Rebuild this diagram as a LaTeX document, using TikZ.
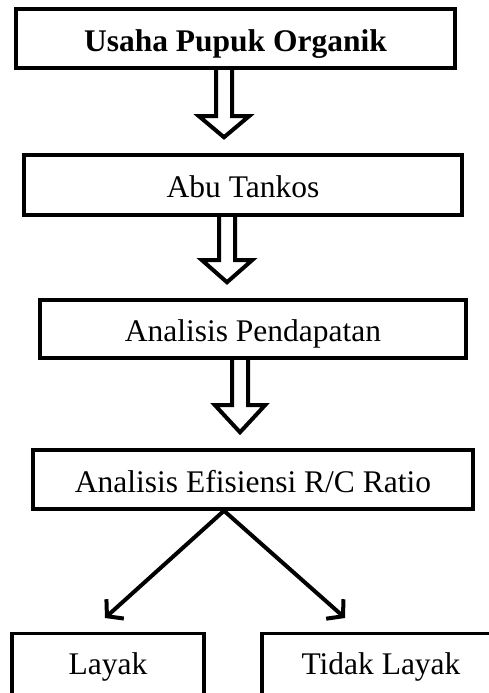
\documentclass[tikz,border=0pt]{standalone}
\usepackage{fontspec}
\setmainfont{Liberation Serif}
\usetikzlibrary{arrows.meta,calc}
\tikzset{
  box/.style={draw, line width=3.5pt, inner sep=0pt, text height=33pt, text depth=7pt,
    font=\fontsize{31.5}{36}\selectfont},
  endbox/.style={box, anchor=north, text height=22pt, text depth=40pt, inner ysep=19pt},
  hollow/.style={draw, line width=4pt, line join=miter},
  branch/.style={line width=4pt, line join=round, -{Straight Barb[length=11pt,width=26pt]}}
}
% hollow block arrow: centre x, upper node, lower node, head length
\newcommand{\hollowarrow}[4]{%
  \draw[hollow] let \p1=(#2.south), \p2=(#3.north) in
    (#1pt-8pt,\y1) -- (#1pt-8pt,\y2+16pt+#4pt) -- (#1pt-25pt,\y2+16pt+#4pt)
    -- (#1pt,\y2+16pt) -- (#1pt+25pt,\y2+16pt+#4pt) -- (#1pt+8pt,\y2+16pt+#4pt)
    -- (#1pt+8pt,\y1);}
\begin{document}
\begin{tikzpicture}[x=1pt,y=1pt]
\useasboundingbox (0,0) rectangle (488,693);
\node[box, minimum width=439pt, minimum height=59pt] (usaha) at (235.5,654.5) {\textbf{Usaha Pupuk Organik}};
\node[box, minimum width=438pt, minimum height=60pt] (abu) at (243,508) {Abu Tankos};
\node[box, minimum width=426pt, minimum height=58pt] (pendapatan) at (253,364) {Analisis Pendapatan};
\node[box, minimum width=440pt, minimum height=59pt] (efisiensi) at (253,213.5) {Analisis Efisiensi R/C Ratio};
\node[endbox, minimum width=192pt] (layak) at (108,61) {Layak};
\node[endbox, minimum width=238pt] (tidaklayak) at (381,61) {Tidak Layak};
\hollowarrow{224}{usaha}{abu}{21}
\hollowarrow{227}{abu}{pendapatan}{22}
\hollowarrow{240}{pendapatan}{efisiensi}{27}
\coordinate (split) at (224,0 |- efisiensi.south);
\coordinate (toLayak) at (105,75);
\coordinate (toTidak) at (345,75);
\draw[branch] (split) -- (toLayak);
\draw[branch] (split) -- (toTidak);
\end{tikzpicture}
\end{document}
